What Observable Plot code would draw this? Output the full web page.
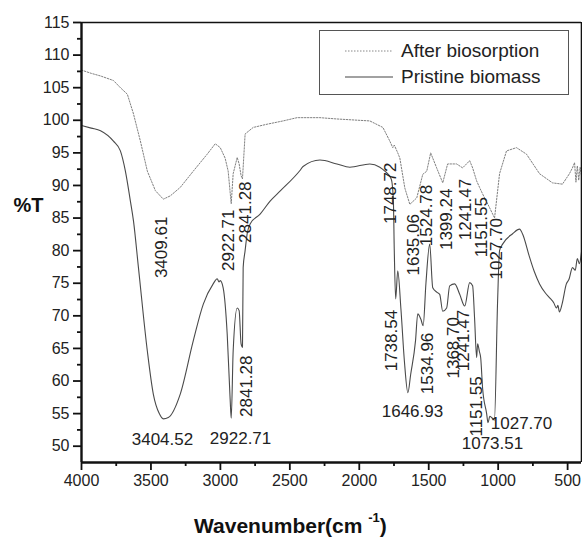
<!DOCTYPE html>
<html>
<head>
<meta charset="utf-8">
<script src="https://cdn.jsdelivr.net/npm/d3@7"></script>
<script src="https://cdn.jsdelivr.net/npm/@observablehq/plot@0.6"></script>
<style>
  body { margin: 0; background: #fff; font-family: "Liberation Sans", Arial, sans-serif; }
  #wrap { position: relative; width: 582px; }
  #legend { position: absolute; left: 319px; top: 30px; width: 250px; height: 65px; border: 1px solid #555; background: #fff; box-sizing: border-box; }
  .row { position: absolute; left: 0; height: 22px; display: flex; align-items: center; font-size: 19px; color: #222; }
  .row svg { margin-left: 25px; margin-right: 8px; }
  #xtitle { text-align: left; height: 37px; font-weight: bold; font-size: 21px; color: #111; padding-left: 194px; line-height: 42px; }
  #xtitle sup { font-size: 13px; position: relative; top: -3px; }
</style>
</head>
<body>
<div id="wrap">
  <div id="chart"></div>
  <div id="legend">
    <div class="row" style="top:9px"><svg width="48" height="4"><line x1="0" y1="2" x2="48" y2="2" stroke="#888" stroke-width="1" stroke-dasharray="1.5,1.5"/></svg>After biosorption</div>
    <div class="row" style="top:35px"><svg width="48" height="4"><line x1="0" y1="2" x2="48" y2="2" stroke="#444" stroke-width="1.2"/></svg>Pristine biomass</div>
  </div>
  <div id="xtitle">Wavenumber(cm <sup>-1</sup>)</div>
</div>
<script>
// Pristine biomass (solid)
const pristineWN = [4000,3930,3863,3770,3720,3684,3648,3626,3590,3526,3483,3440,3411,3375,3289,3195,3123,3052,3023,3010,3001,2980,2951,2930,2922,2908,2879,2865,2851,2841,2836,2822,2807,2786,2714,2642,2567,2427,2405,2283,2161,2068,1924,1852,1816,1770,1755,1748,1738,1723,1700,1675,1650,1630,1595,1579,1557,1540,1520,1493,1471,1440,1421,1399,1371,1349,1313,1277,1241,1205,1184,1170,1155,1148,1135,1126,1112,1083,1073,1060,1047,1027,1004,990,968,896,846,825,774,740,702,660,631,600,580,570,559,540,509,490,465,445,430,415,400];
const pristineT  = [99.2,98.8,98.4,96.8,95.3,92.2,87.6,84.6,77.4,64.6,58.0,55.0,54.2,54.4,58.0,66.2,71.8,74.9,75.7,75.2,75.4,74.3,67.2,57.3,54.3,64.6,71.2,70.8,65.7,65.2,77.4,80.0,82.6,84.1,85.6,87.6,89.2,92.3,92.9,93.9,93.3,92.8,93.3,92.8,92.2,91.0,88.0,80.0,72.6,76.9,71.0,63.0,58.2,61.0,66.2,70.3,69.5,68.5,75.0,81.0,74.3,73.6,73.3,70.7,71.2,74.6,74.9,73.3,71.5,75.1,74.6,69.7,63.6,65.7,64.5,63.6,58.9,55.0,53.6,54.6,54.4,54.0,72.3,80.0,81.0,82.6,83.3,82.6,79.0,76.8,74.9,73.5,72.8,72.0,71.2,71.6,70.6,71.8,74.9,75.6,77.4,77.0,78.8,78.0,79.8];

// After biosorption (dotted)
const afterWN = [4000,3930,3863,3770,3720,3670,3626,3576,3526,3468,3411,3361,3289,3195,3095,3037,3001,2966,2944,2930,2922,2908,2879,2865,2851,2841,2822,2764,2663,2549,2448,2283,2161,1924,1830,1780,1759,1748,1723,1708,1672,1636,1586,1543,1514,1486,1443,1399,1364,1299,1256,1205,1184,1155,1134,1112,1062,1026,990,940,868,796,702,609,537,487,465,450,440,430,420,410,400];
const afterT  = [107.7,107.2,106.8,106.1,105.0,104.0,101.0,96.8,92.2,89.2,87.9,88.4,89.7,92.2,94.8,96.4,95.8,94.2,92.2,89.0,87.2,91.8,94.3,93.3,91.5,91.0,97.9,98.9,99.4,99.9,100.4,100.4,100.2,99.9,98.9,96.8,95.8,96.2,95.0,94.2,89.6,87.1,88.1,91.7,92.2,95.0,92.7,90.4,93.3,93.3,92.7,93.8,92.7,90.7,89.7,88.7,86.6,85.0,91.8,95.3,95.8,94.8,91.8,90.4,90.2,91.8,92.7,93.5,90.5,93.0,90.8,92.8,91.5];

// Peak labels (text, anchor wavenumber, anchor %T, rotated?)
const peakText = ["3409.61","2922.71","2841.28","1748.72","1635.06","1524.78","1399.24","1241.47","1151.55","1027.70",
                  "2841.28","1738.54","1534.96","1368.70","1241.47","1151.55",
                  "3404.52","2922.71","1646.93","1027.70","1073.51"];
const peakX = [3424,2942,2819,1775,1610,1516,1372,1235,1120,1012,
               2812,1768,1509,1322,1250,1156,
               3417,2855,1617,832,1041];
const peakY = [80.5,81.6,85.9,88.8,80.9,85.4,84.8,86.3,83.6,80.3,
               59.2,66.2,62.7,65.1,66.2,56.1,
               51.0,51.2,55.3,53.5,50.4];
const peakRot = [-90,-90,-90,-90,-90,-90,-90,-90,-90,-90,
                 -90,-90,-90,-90,-90,-90,
                 0,0,0,0,0];

const xMajor = [4000,3500,3000,2500,2000,1500,1000,500];
const xMinor = [3750,3250,2750,2250,1750,1250,750];
const yMajor = [50,55,60,65,70,75,80,85,90,95,100,105,110,115];
const yMinor = [52.5,57.5,62.5,67.5,72.5,77.5,82.5,87.5,92.5,97.5,102.5,107.5,112.5];
const xDomain = [4000,400];
const yDomain = [47.5,115];

const pristine = pristineWN.map((w,i)=>({w, t: pristineT[i]}));
const after = afterWN.map((w,i)=>({w, t: afterT[i]}));
const peaks = peakText.map((s,i)=>({s, x: peakX[i], y: peakY[i], r: peakRot[i]}));

const font = '"Liberation Sans", Arial, sans-serif';

const chart = Plot.plot({
  width: 582,
  height: 500,
  marginLeft: 81,
  marginRight: 1,
  marginTop: 22,
  marginBottom: 38,
  style: {fontFamily: font, background: "#fff", color: "#222"},
  x: {domain: xDomain},
  y: {domain: yDomain},
  marks: [
    Plot.line(after, {x: "w", y: "t", stroke: "#808080", strokeWidth: 1, strokeDasharray: "1.5,1.5", curve: "linear"}),
    Plot.line(pristine, {x: "w", y: "t", stroke: "#4a4a4a", strokeWidth: 1.1, curve: "monotone-x"}),
    Plot.text(peaks.filter(d=>d.r!==0), {x: "x", y: "y", text: "s", rotate: -90, fontSize: 17, fill: "#222", textAnchor: "middle"}),
    Plot.text(peaks.filter(d=>d.r===0), {x: "x", y: "y", text: "s", fontSize: 17, fill: "#222", textAnchor: "middle"}),
    Plot.ruleY([yDomain[1]], {stroke: "#111", strokeWidth: 1.6}),
    Plot.ruleX([xDomain[1]], {stroke: "#111", strokeWidth: 1.6}),
    Plot.ruleY([yDomain[0]], {stroke: "#111", strokeWidth: 2.4}),
    Plot.ruleX([xDomain[0]], {stroke: "#111", strokeWidth: 2.4}),
    Plot.axisX({ticks: xMajor, tickSize: 8, tickPadding: 4, fontSize: 16, tickFormat: d3.format("d"), label: null, strokeWidth: 1.8, stroke: "#111"}),
    Plot.axisX({ticks: xMinor, tickSize: 4, tickFormat: () => "", label: null, strokeWidth: 1.8, stroke: "#111"}),
    Plot.axisY({ticks: yMajor, tickSize: 8, tickPadding: 4, fontSize: 16, tickFormat: d3.format("d"), label: null, strokeWidth: 1.8, stroke: "#111"}),
    Plot.axisY({ticks: yMinor, tickSize: 4, tickFormat: () => "", label: null, strokeWidth: 1.8, stroke: "#111"}),
    Plot.text(["%T"], {frameAnchor: "left", dx: -53, dy: -37, text: d => d, fontSize: 20, fontWeight: "bold", fill: "#111", textAnchor: "middle"})
  ]
});
document.getElementById("chart").appendChild(chart);
</script>
</body>
</html>
